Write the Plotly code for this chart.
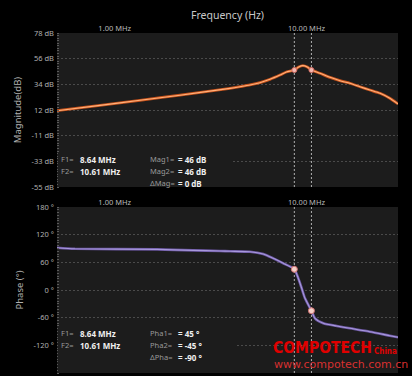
import math
import plotly.graph_objects as go
from plotly.subplots import make_subplots

# ---- data ----
mag_freq = [0.5e6, 0.838e6, 1.354e6, 2.19e6, 3.99e6, 4.5e6, 5.07e6, 5.72e6, 6.45e6, 7.27e6, 7.85e6,
            8.64e6, 9.1e6, 9.57e6, 10.1e6, 10.61e6, 11.76e6, 13.26e6, 14.94e6, 16.85e6,
            19.0e6, 21.4e6, 24.2e6, 27.2e6, 30e6]
mag_db = [10.9, 15.5, 19.9, 24.3, 30.2, 31.6, 33.1, 35.1, 38.0, 41.7, 44.3,
          46.0, 48.6, 49.8, 48.6, 46.0, 43.2, 39.7, 36.8, 34.6,
          31.6, 28.8, 25.9, 21.6, 16.7]

ph_freq = [0.5e6, 0.62e6, 1.66e6, 2.56e6, 3.54e6, 4.0e6, 5.07e6, 5.95e6, 6.71e6, 7.57e6, 8.64e6,
           9.06e6, 9.44e6, 9.82e6, 10.61e6, 11.07e6, 12.23e6, 14.37e6, 16.85e6, 21.4e6, 27.2e6, 30e6]
ph_deg = [91.7, 89.5, 88.0, 86.0, 84.6, 84.0, 83.1, 78.1, 68.7, 57.9, 45.0,
          25.4, 3.7, -18.0, -45.0, -61.4, -72.2, -78.1, -83.1, -90.4, -99.1, -102.6]

marker_freq = [8.64e6, 10.61e6]
marker_mag = [46, 46]
marker_ph = [45, -45]

mag_tick_vals = [-55, -32.83, -10.67, 11.5, 33.67, 55.83, 78]
mag_tick_text = ["-55 dB", "-33 dB", "-11 dB", "12 dB", "34 dB", "56 dB", "78 dB"]
ph_tick_vals = [-180, -120, -60, 0, 60, 120, 180]
ph_tick_text = ["-180 °", "-120 °", "-60 °", "0 °", "60 °", "120 °", "180 °"]
x_tick_vals = [1e6, 1e7]
x_tick_text = ["1.00 MHz", "10.00 MHz"]

W, H = 412, 376
L, R, T, B = 57, 14, 33, 3
PW, PH = W - L - R, H - T - B

def px(x):
    return (x - L) / PW

def py(y):
    return (H - B - y) / PH

top_dom = [py(187), 1.0]
bot_dom = [0.0, py(207)]

fig = make_subplots(rows=2, cols=1)

GRID = "#4a4a4a"
FONT = "Noto Sans"

# magnitude curve (glow + core)
fig.add_trace(go.Scatter(x=mag_freq, y=mag_db, mode="lines",
                         line=dict(color="#c8531c", width=2.8, shape="spline", smoothing=0.6),
                         hoverinfo="skip", showlegend=False), row=1, col=1)
fig.add_trace(go.Scatter(x=mag_freq, y=mag_db, mode="lines",
                         line=dict(color="#ffb07a", width=1.1, shape="spline", smoothing=0.6),
                         showlegend=False), row=1, col=1)
# phase curve
fig.add_trace(go.Scatter(x=ph_freq, y=ph_deg, mode="lines",
                         line=dict(color="#6a56a0", width=2.6, shape="spline", smoothing=0.6),
                         hoverinfo="skip", showlegend=False), row=2, col=1)
fig.add_trace(go.Scatter(x=ph_freq, y=ph_deg, mode="lines",
                         line=dict(color="#a898dc", width=1.1, shape="spline", smoothing=0.6),
                         showlegend=False), row=2, col=1)

# marker vertical dashed lines
for f in marker_freq:
    fig.add_trace(go.Scatter(x=[f, f], y=[-55, 78], mode="lines",
                             line=dict(color="#b0b0b0", width=1, dash="2px,2px"),
                             hoverinfo="skip", showlegend=False), row=1, col=1)
    fig.add_trace(go.Scatter(x=[f, f], y=[-180, 180], mode="lines",
                             line=dict(color="#b0b0b0", width=1, dash="2px,2px"),
                             hoverinfo="skip", showlegend=False), row=2, col=1)

fig.add_trace(go.Scatter(x=marker_freq, y=marker_mag, mode="markers",
                         marker=dict(size=5, color="#f4b8b0", line=dict(color="#d06a60", width=1)),
                         showlegend=False), row=1, col=1)
fig.add_trace(go.Scatter(x=marker_freq, y=marker_ph, mode="markers",
                         marker=dict(size=6, color="#f6d0c8", line=dict(color="#d07070", width=1)),
                         showlegend=False), row=2, col=1)

xr = [math.log10(5e5), math.log10(3e7)]
xcommon = dict(type="log", range=xr, side="top", tickmode="array",
               tickvals=x_tick_vals, ticktext=x_tick_text, showgrid=False,
               zeroline=False, ticks="", showline=False, automargin=False,
               tickfont=dict(family=FONT, size=7.5, color="#b8b8b8"))
fig.update_layout(xaxis=dict(domain=[0, 1], anchor="y", **xcommon),
                  xaxis2=dict(domain=[0, 1], anchor="y2", **xcommon))

ycommon = dict(showgrid=True, gridcolor=GRID, griddash="2px,2px", gridwidth=1,
               zeroline=False, showline=False, ticks="", mirror=False, automargin=False,
               ticklabelstandoff=2,
               tickfont=dict(family=FONT, size=7.5, color="#b0b0b0"))
fig.update_layout(
    yaxis=dict(domain=top_dom, range=[-55, 78], tickmode="array",
               tickvals=mag_tick_vals, ticktext=mag_tick_text,
               title=dict(text="Magnitude(dB)", standoff=8,
                          font=dict(family=FONT, size=9.5, color="#b0b0b0")),
               minor=dict(ticks="inside", ticklen=2, tickcolor="#5a5a5a",
                          tick0=-55, dtick=133 / 60, showgrid=False),
               **ycommon),
    yaxis2=dict(domain=bot_dom, range=[-180, 180], tickmode="array",
                tickvals=ph_tick_vals, ticktext=ph_tick_text,
                title=dict(text="Phase (°)", standoff=8,
                           font=dict(family=FONT, size=9.5, color="#b0b0b0")),
                minor=dict(ticks="inside", ticklen=2, tickcolor="#5a5a5a",
                           tick0=-180, dtick=6, showgrid=False),
                **ycommon),
)

# covering boxes behind readouts
shapes = [
    dict(type="rect", xref="paper", yref="paper", x0=px(58), x1=px(232), y0=py(187), y1=py(153),
         fillcolor="#1c1c1c", line=dict(width=0), layer="above"),
    dict(type="rect", xref="paper", yref="paper", x0=px(58), x1=px(236), y0=py(373), y1=py(326),
         fillcolor="#1c1c1c", line=dict(width=0), layer="above"),
]

ann = []
def txt(x, y, s, color="#9a9a9a", size=7.5, bold=False, anchor="left", family=FONT):
    ann.append(dict(xref="paper", yref="paper", x=px(x), y=py(y), text=("<b>%s</b>" % s) if bold else s,
                    showarrow=False, xanchor=anchor, yanchor="middle", borderpad=0,
                    font=dict(family=family, size=size, color=color)))

txt(227, 15, "Frequency (Hz)", color="#c8c8c8", size=10.5, anchor="center")

VAL = dict(color="#f0f0f0", bold=True, size=8)
# magnitude readouts
txt(60, 159, "F1=")
txt(79, 159, "8.64 MHz", **VAL)
txt(60, 171, "F2=")
txt(79, 171, "10.61 MHz", **VAL)
txt(149, 159, "Mag1=")
txt(177, 159, "= 46 dB", **VAL)
txt(149, 171, "Mag2=")
txt(177, 171, "= 46 dB", **VAL)
txt(149, 183, "ΔMag=")
txt(177, 183, "= 0 dB", **VAL)

# phase readouts
txt(60, 333, "F1=")
txt(79, 333, "8.64 MHz", **VAL)
txt(60, 345, "F2=")
txt(79, 345, "10.61 MHz", **VAL)
txt(149, 333, "Pha1=")
txt(177, 333, "= 45 °", **VAL)
txt(149, 345, "Pha2=")
txt(177, 345, "= -45 °", **VAL)
txt(149, 357, "ΔPha=")
txt(177, 357, "= -90 °", **VAL)

# watermark
txt(272, 348, "COMPOTECH", color="#e00000", size=15.5, bold=True, family="DejaVu Sans Condensed")
txt(373, 351, "China", color="#e00000", size=8, bold=True, family="DejaVu Sans Condensed")
txt(273, 364, "www.compotech.com.cn", color="#d83030", size=11, family="DejaVu Sans")

fig.update_layout(
    width=W, height=H, margin=dict(l=L, r=R, t=T, b=B),
    paper_bgcolor="#000000", plot_bgcolor="#1c1c1c",
    shapes=shapes, annotations=ann, showlegend=False,
)

fig.write_html("out.html", config={"displayModeBar": False},
               post_script="document.body.style.margin='0';document.body.style.background='#000';")
